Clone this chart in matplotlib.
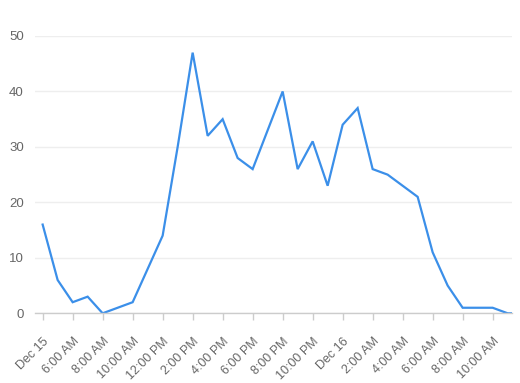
import matplotlib
matplotlib.use("Agg")
import matplotlib.pyplot as plt

# hours since Dec 15 00:00
hours = list(range(4, 37))
values = [16, 6, 2, 3, 0, 1, 2, 8, 14, 30, 47, 32, 35, 28, 26, 33, 40, 26, 31, 23,
          34, 37, 26, 25, 23, 21, 11, 5, 1, 1, 1, 0, 0]
tick_hours = list(range(4, 36, 2))
tick_labels = ["Dec 15", "6:00 AM", "8:00 AM", "10:00 AM", "12:00 PM", "2:00 PM",
               "4:00 PM", "6:00 PM", "8:00 PM", "10:00 PM", "Dec 16", "2:00 AM",
               "4:00 AM", "6:00 AM", "8:00 AM", "10:00 AM"]
y_ticks = [0, 10, 20, 30, 40, 50]

plt.rcParams['font.family'] = ['Liberation Sans', 'DejaVu Sans']
fig = plt.figure(figsize=(5.2, 3.83), dpi=100)
ax = fig.add_axes([35/520, 1 - 313.3/383, (512-35)/520, (313.3-36)/383])

ax.plot(hours, values, color='#3b8fe9', linewidth=1.6, solid_joinstyle='miter', clip_on=True)

ax.set_xlim(3.49, 35.29)
ax.set_ylim(0, 50)
ax.set_yticks(y_ticks)
ax.set_xticks(tick_hours)
ax.set_xticklabels(tick_labels, rotation=45, ha='right', va='top', rotation_mode='anchor')

for s in ['top', 'right', 'left']:
    ax.spines[s].set_visible(False)
ax.spines['bottom'].set_color('#cccccc')
ax.spines['bottom'].set_linewidth(1)

ax.grid(axis='y', color='#eeeeee', linewidth=1)
ax.set_axisbelow(True)
ax.tick_params(axis='y', length=0, pad=8, labelsize=9.5, labelcolor='#666666')
ax.tick_params(axis='x', length=5, width=1, color='#cccccc', pad=11, labelsize=9, labelcolor='#666666')

fig.savefig('out.png', dpi=100)
